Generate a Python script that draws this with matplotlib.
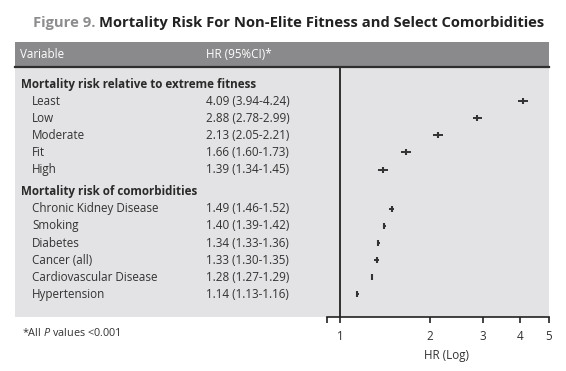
import matplotlib
matplotlib.use("Agg")
import matplotlib.pyplot as plt
from matplotlib.patches import Rectangle
from matplotlib.transforms import blended_transform_factory
from matplotlib.ticker import NullLocator

plt.rcParams['font.family'] = ['Open Sans', 'DejaVu Sans']
plt.rcParams['mathtext.fontset'] = 'custom'
plt.rcParams['mathtext.rm'] = 'Open Sans'
plt.rcParams['mathtext.it'] = 'Open Sans:italic'

# data
SECTION1 = "Mortality risk relative to extreme fitness"
LABELS1 = ["Least", "Low", "Moderate", "Fit", "High"]
HR1 = [4.09, 2.88, 2.13, 1.66, 1.39]
LO1 = [3.94, 2.78, 2.05, 1.60, 1.34]
HI1 = [4.24, 2.99, 2.21, 1.73, 1.45]

SECTION2 = "Mortality risk of comorbidities"
LABELS2 = ["Chronic Kidney Disease", "Smoking", "Diabetes", "Cancer (all)",
           "Cardiovascular Disease", "Hypertension"]
HR2 = [1.49, 1.40, 1.34, 1.33, 1.28, 1.14]
LO2 = [1.46, 1.39, 1.33, 1.30, 1.27, 1.13]
HI2 = [1.52, 1.42, 1.36, 1.35, 1.29, 1.16]

XTICKS = [1, 2, 3, 4, 5]

W, H = 566, 371
TXT = "#333333"
PANEL = "#e3e3e5"
BAND = "#8a8a8c"
FS = 8.4

fig = plt.figure(figsize=(W / 100, H / 100), dpi=100)
fig.patch.set_facecolor("white")

def fx(px):
    return px / W

def fy(py):
    return 1 - py / H

# background panel and header band
fig.add_artist(Rectangle((fx(15), fy(317)), fx(549) - fx(15), fy(67) - fy(317),
                         transform=fig.transFigure, facecolor=PANEL, edgecolor="none", zorder=0))
fig.add_artist(Rectangle((fx(15), fy(66)), fx(549) - fx(15), fy(42) - fy(66),
                         transform=fig.transFigure, facecolor=BAND, edgecolor="none", zorder=0))
fig.add_artist(plt.Line2D([fx(15), fx(549)], [fy(67), fy(67)], transform=fig.transFigure,
                          color="#2e2e2e", lw=1.6, zorder=1))

fig.text(fx(20), fy(55), "Variable", color="white", fontsize=FS, va="center")
fig.text(fx(206), fy(55), "HR (95%CI)*", color="white", fontsize=FS, va="center")

# forest plot axes
ax = fig.add_axes([fx(327), fy(317), fx(549) - fx(327), fy(67) - fy(317)])
ax.patch.set_alpha(0)
ax.set_xscale("log")
ax.set_xlim(0.905, 5)

row_px = 17.1
top_row_px = 84
ax.set_ylim((317 - top_row_px) / row_px, (67 - top_row_px) / row_px)

y_sec1 = 0
y1 = [y_sec1 + 1 + i for i in range(len(LABELS1))]
y_sec2 = y1[-1] + 1.3
y2 = [y_sec2 + 1 + i for i in range(len(LABELS2))]

ax.axvline(1, color="#222222", lw=1.3, zorder=2)

for ys, hr, lo, hi in [(y1, HR1, LO1, HI1), (y2, HR2, LO2, HI2)]:
    ax.hlines(ys, lo, hi, color=TXT, lw=1.4, zorder=3)
    ax.scatter(hr, ys, marker="|", s=16, color=TXT, linewidths=1.5, zorder=4)

for s in ["top", "right", "left"]:
    ax.spines[s].set_visible(False)
ax.spines["bottom"].set_color("#222222")
ax.spines["bottom"].set_linewidth(1.2)
ax.set_yticks([])
ax.set_xticks([0.905] + XTICKS)
ax.set_xticklabels([""] + [str(t) for t in XTICKS], fontsize=FS, color=TXT)
ax.xaxis.set_minor_locator(NullLocator())
ax.tick_params(axis="x", direction="out", length=4, width=1.2, color="#222222", pad=5)

# left-hand table text
tr = blended_transform_factory(fig.transFigure, ax.transData)
ax.text(fx(21), y_sec1, SECTION1, transform=tr, fontsize=FS, fontweight="bold",
        color="#2a2a2a", va="center", clip_on=False)
ax.text(fx(21), y_sec2, SECTION2, transform=tr, fontsize=FS, fontweight="bold",
        color="#2a2a2a", va="center", clip_on=False)
for ys, labels, hr, lo, hi in [(y1, LABELS1, HR1, LO1, HI1), (y2, LABELS2, HR2, LO2, HI2)]:
    for y, lab, h, l, u in zip(ys, labels, hr, lo, hi):
        ax.text(fx(32), y, lab, transform=tr, fontsize=FS, color=TXT, va="center", clip_on=False)
        ax.text(fx(206), y, f"{h:.2f} ({l:.2f}-{u:.2f})", transform=tr, fontsize=FS,
                color=TXT, va="center", clip_on=False)

fig.text(fx(446), fy(356), "HR (Log)", fontsize=FS, color=TXT, ha="center", va="center")
fig.text(fx(22), fy(333), r"*All $\mathit{P}$ values <0.001", fontsize=7.8, color=TXT, va="center")

# title in two colours
renderer = fig.canvas.get_renderer()
t1 = fig.text(fx(33), fy(23), "Figure 9. ", fontsize=10.6, fontweight="bold", color="#8d8d8f", va="center")
bb = t1.get_window_extent(renderer)
fig.text(bb.x1 / W, fy(23), "Mortality Risk For Non-Elite Fitness and Select Comorbidities",
         fontsize=10.6, fontweight="bold", color="#222222", va="center")

fig.savefig("out.png", dpi=100)
